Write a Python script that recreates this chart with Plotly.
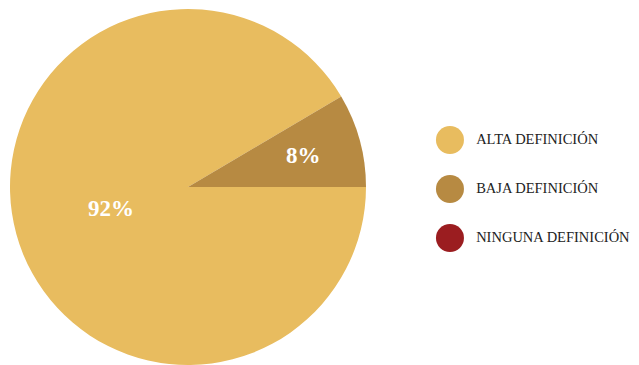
import math
import plotly.graph_objects as go

categories = ["ALTA DEFINICIÓN", "BAJA DEFINICIÓN", "NINGUNA DEFINICIÓN"]
values = [91.5, 8.5, 0]
pct_labels = ["92%", "8%", ""]
colors = ["#E8BC5F", "#B78A42", "#9B1D20"]

W, H = 639, 365
# pie geometry (pixels within the figure)
CX, CY, R = 180, 179, 178
label_r = [0.45, 0.67, 0.6]

fig = go.Figure()
fig.add_trace(go.Pie(
    labels=categories, values=values,
    textinfo="none", sort=False, direction="clockwise", rotation=90,
    marker=dict(colors=colors, line=dict(width=0)),
    showlegend=False, hoverinfo="label+percent",
    domain=dict(x=[(CX - R)/W, (CX + R)/W], y=[1 - (CY + R)/H, 1 - (CY - R)/H]),
))

# percentage labels placed at each slice's mid-angle
total = sum(values)
start = 0.0  # clockwise degrees from 3 o'clock
for v, lab, f in zip(values, pct_labels, label_r):
    if v <= 0:
        continue
    mid = math.radians(start + 360 * v / total / 2)
    px = CX + R * f * math.cos(mid)
    py = CY + R * f * math.sin(mid)
    fig.add_annotation(
        x=px / W, y=1 - py / H, xref="paper", yref="paper",
        xanchor="center", yanchor="middle",
        text=lab, showarrow=False,
        font=dict(family="Liberation Serif", size=23, color="white", weight="bold"),
    )
    start += 360 * v / total

# legend drawn as scatter traces on hidden axes
fig.add_trace(go.Scatter(
    x=[0]*len(categories), y=categories, mode="markers",
    marker=dict(size=28, color=colors, line=dict(width=0)),
    showlegend=False, hoverinfo="skip", cliponaxis=False,
))
fig.add_trace(go.Scatter(
    x=[0.93]*len(categories), y=categories, mode="text",
    text=categories, textposition="middle right",
    textfont=dict(family="Liberation Serif", size=14.5, color="#222222"),
    showlegend=False, hoverinfo="skip", cliponaxis=False,
))

fig.update_layout(
    width=W, height=H,
    margin=dict(l=0, r=0, t=0, b=0),
    paper_bgcolor="white", plot_bgcolor="rgba(0,0,0,0)",
    xaxis=dict(domain=[0.6476, 1], range=[-1, 7], visible=False, fixedrange=True),
    yaxis=dict(domain=[0, 1], type="category", categoryorder="array",
               categoryarray=categories, range=[4.755, -2.694], visible=False,
               fixedrange=True),
)

fig.write_html("out.html")
